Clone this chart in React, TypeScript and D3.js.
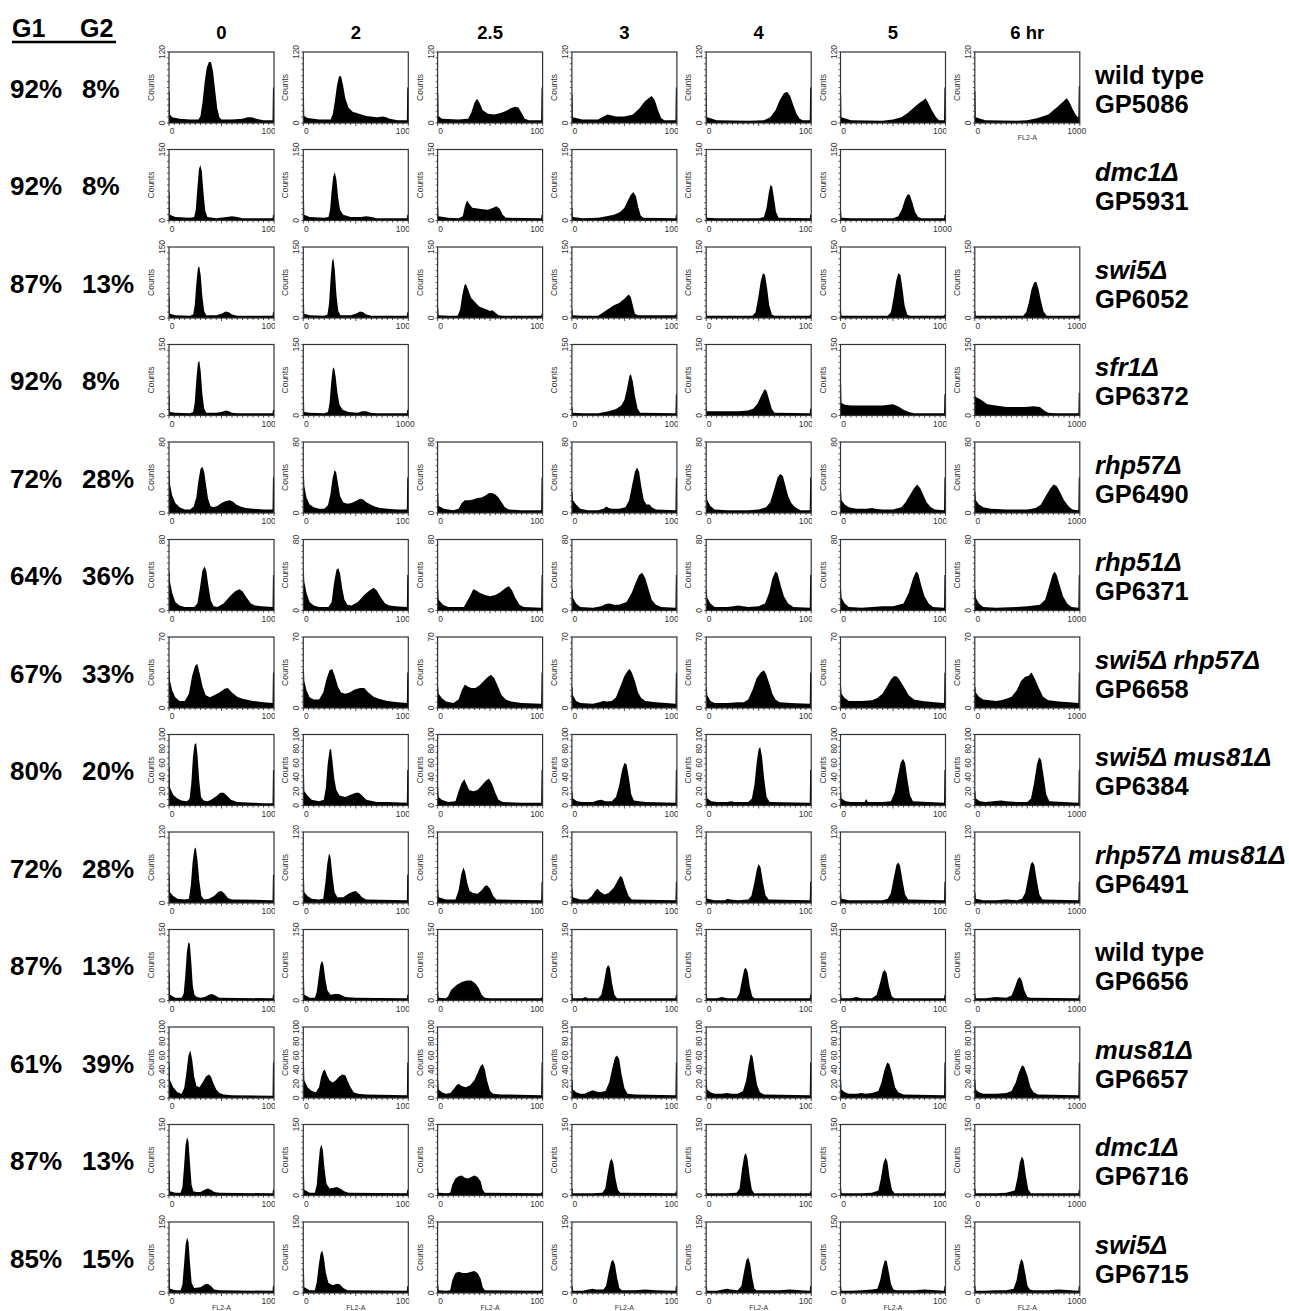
import React from 'react';
import * as d3 from 'd3';

// ---------- labels ----------
const timepoints = ['0', '2', '2.5', '3', '4', '5', '6 hr'];
const g1Values = ['92%', '92%', '87%', '92%', '72%', '64%', '67%', '80%', '72%', '87%', '61%', '87%', '85%'];
const g2Values = ['8%', '8%', '13%', '8%', '28%', '36%', '33%', '20%', '28%', '13%', '39%', '13%', '15%'];
const strainNames = ['wild type', 'dmc1Δ', 'swi5Δ', 'sfr1Δ', 'rhp57Δ', 'rhp51Δ', 'swi5Δ rhp57Δ', 'swi5Δ mus81Δ', 'rhp57Δ mus81Δ', 'wild type', 'mus81Δ', 'dmc1Δ', 'swi5Δ'];
const strainIds = ['GP5086', 'GP5931', 'GP6052', 'GP6372', 'GP6490', 'GP6371', 'GP6658', 'GP6384', 'GP6491', 'GP6656', 'GP6657', 'GP6716', 'GP6715'];
const countsMax = [120, 150, 150, 150, 80, 80, 70, 100, 120, 150, 100, 150, 150];
const fullXLabel = [[1, 5], [3, 1]];

// ---------- histogram outlines: [FL2-A channel, % of axis max] pairs ----------
const wt5086 = [
  [0,44, 6,44, 9,12, 30,8, 100,6, 200,5, 280,5, 300,10, 320,30, 340,58, 360,78, 380,86, 400,86, 420,72, 440,45, 460,20, 480,8, 500,5, 600,5, 700,6, 750,8, 790,8, 830,6, 900,4, 986,4, 990,50, 1000,50],
  [0,40, 6,40, 9,10, 40,7, 150,5, 260,5, 280,12, 300,30, 320,52, 340,66, 360,66, 380,52, 400,35, 430,22, 470,16, 530,13, 600,10, 700,8, 760,9, 790,8, 820,6, 900,4, 986,4, 990,50, 1000,50],
  [0,42, 6,42, 9,10, 40,6, 200,5, 290,6, 320,14, 350,28, 375,34, 400,28, 430,18, 480,13, 540,12, 600,14, 650,17, 700,21, 740,23, 770,22, 800,14, 830,6, 870,4, 986,4, 990,50, 1000,50],
  [0,40, 6,40, 9,8, 100,5, 250,5, 300,9, 340,12, 370,11, 420,9, 500,9, 580,12, 640,20, 690,30, 730,35, 760,38, 790,32, 820,18, 850,7, 880,4, 986,4, 990,50, 1000,50],
  [0,40, 6,40, 9,8, 100,4, 400,3, 550,4, 610,8, 660,18, 700,32, 740,42, 770,44, 800,38, 830,25, 860,13, 890,6, 920,4, 986,4, 990,50, 1000,50],
  [0,40, 6,40, 9,8, 100,4, 400,3, 500,5, 580,8, 640,14, 700,22, 750,28, 790,32, 810,35, 830,30, 870,18, 910,8, 940,4, 986,4, 990,50, 1000,50],
  [0,45, 6,45, 9,8, 100,4, 400,3, 500,4, 600,7, 700,12, 780,22, 840,30, 875,35, 900,30, 930,20, 960,12, 980,8, 986,8, 990,52, 1000,52],
];
const dmc1_5931 = [
  [0,40, 6,40, 9,8, 60,5, 200,4, 240,5, 255,15, 270,45, 285,72, 298,78, 312,70, 328,40, 345,14, 365,5, 450,3, 550,5, 600,6, 650,5, 700,3, 986,3, 990,8, 1000,8],
  [0,40, 6,40, 9,8, 60,5, 200,4, 240,5, 255,15, 270,42, 285,62, 300,68, 315,58, 332,32, 350,15, 380,8, 450,5, 550,5, 600,6, 650,5, 700,3, 986,3, 990,8, 1000,8],
  [0,20, 6,20, 9,6, 100,4, 200,3, 240,6, 260,20, 280,28, 300,24, 330,18, 380,17, 430,16, 480,15, 530,18, 560,20, 590,17, 620,8, 650,4, 986,3, 990,8, 1000,8],
  [0,18, 6,18, 9,5, 100,3, 250,4, 330,6, 400,8, 460,12, 500,18, 530,27, 560,36, 585,40, 610,34, 630,20, 655,7, 680,4, 986,3, 990,8, 1000,8],
  [0,14, 6,14, 9,4, 100,3, 500,3, 550,5, 575,18, 595,38, 612,50, 628,48, 645,32, 665,12, 690,4, 986,3, 990,8, 1000,8],
  [0,14, 6,14, 9,4, 100,3, 500,3, 550,6, 585,16, 615,30, 640,37, 660,36, 685,25, 710,12, 740,5, 770,3, 986,3, 990,8, 1000,8],
  null,
];
const swi5_6052 = [
  [0,30, 6,30, 9,6, 60,4, 200,3, 230,5, 245,18, 260,48, 275,70, 288,73, 302,60, 318,30, 335,10, 355,4, 450,4, 500,6, 540,9, 570,8, 600,5, 650,3, 986,3, 990,8, 1000,8],
  [0,28, 6,28, 9,6, 60,4, 200,3, 230,5, 245,20, 260,55, 274,80, 286,84, 300,68, 316,32, 333,10, 355,4, 450,4, 500,6, 540,9, 570,8, 600,5, 650,3, 986,3, 990,8, 1000,8],
  [0,15, 6,15, 9,4, 100,3, 190,3, 215,12, 235,32, 255,46, 270,48, 290,40, 320,28, 360,22, 400,16, 450,13, 500,10, 520,11, 545,8, 580,4, 620,3, 986,3, 990,6, 1000,6],
  [0,12, 6,12, 9,4, 100,3, 250,3, 300,8, 350,13, 400,18, 450,21, 500,27, 540,33, 560,30, 580,18, 600,6, 630,4, 700,4, 800,4, 986,4, 990,6, 1000,6],
  [0,10, 6,10, 9,3, 300,3, 440,3, 470,8, 495,28, 520,52, 540,63, 560,61, 580,42, 600,18, 625,5, 650,3, 986,3, 990,5, 1000,5],
  [0,10, 6,10, 9,3, 300,3, 450,3, 480,8, 505,28, 530,52, 550,63, 570,61, 590,42, 610,18, 635,5, 660,3, 986,3, 990,5, 1000,5],
  [0,10, 6,10, 9,3, 300,3, 460,3, 490,8, 515,22, 540,40, 565,50, 585,51, 605,42, 630,24, 655,9, 685,3, 986,3, 990,5, 1000,5],
];
const sfr1_6372 = [
  [0,30, 6,30, 9,5, 60,4, 200,3, 230,5, 245,18, 260,50, 275,74, 288,77, 302,62, 318,30, 335,10, 355,4, 450,4, 500,5, 540,7, 570,6, 600,4, 650,3, 986,3, 990,8, 1000,8],
  [0,28, 6,28, 9,5, 60,4, 200,3, 235,5, 250,18, 265,45, 280,65, 292,68, 308,55, 325,32, 345,15, 375,8, 430,5, 520,4, 560,6, 600,6, 640,4, 700,3, 986,3, 990,8, 1000,8],
  null,
  [0,12, 6,12, 9,4, 100,3, 250,3, 350,6, 420,9, 470,14, 500,22, 525,38, 548,56, 562,58, 580,48, 600,28, 625,10, 650,4, 986,3, 990,30, 1000,30],
  [0,12, 6,12, 9,6, 100,6, 300,6, 400,7, 450,10, 490,17, 525,28, 555,37, 575,35, 600,22, 625,9, 650,4, 986,3, 990,10, 1000,10],
  [0,45, 6,45, 9,18, 40,15, 100,14, 200,14, 300,14, 400,14, 460,15, 500,16, 530,14, 560,12, 600,8, 650,5, 700,3, 986,3, 990,30, 1000,30],
  [0,28, 6,28, 9,26, 40,24, 80,20, 120,16, 200,14, 300,12, 400,12, 480,12, 560,13, 620,12, 660,7, 700,4, 750,3, 986,3, 990,32, 1000,32],
];
const rhp57_6490 = [
  [0,60, 6,60, 10,40, 30,25, 60,14, 100,8, 150,5, 200,5, 235,9, 260,22, 280,45, 300,62, 318,65, 335,58, 352,40, 372,20, 395,10, 420,8, 460,10, 500,14, 540,17, 580,18, 610,16, 640,12, 680,9, 730,7, 800,6, 900,5, 986,5, 990,50, 1000,50],
  [0,55, 6,55, 10,38, 30,22, 60,12, 100,8, 150,6, 200,6, 235,11, 258,26, 278,48, 296,60, 312,58, 330,42, 350,24, 380,15, 420,13, 460,14, 500,17, 540,20, 570,19, 600,15, 640,12, 680,9, 730,7, 800,6, 900,5, 986,5, 990,50, 1000,50],
  [0,28, 6,28, 10,10, 60,6, 150,4, 200,6, 230,14, 260,18, 300,18, 340,19, 380,21, 420,22, 460,25, 490,28, 520,28, 550,26, 580,22, 610,15, 640,8, 680,5, 800,4, 986,4, 990,50, 1000,50],
  [0,30, 6,30, 10,18, 40,12, 80,6, 150,4, 250,4, 300,6, 330,9, 350,7, 380,6, 450,6, 510,8, 545,18, 575,40, 600,58, 620,64, 640,58, 660,38, 685,18, 710,12, 740,12, 760,8, 800,5, 986,4, 990,50, 1000,50],
  [0,30, 6,30, 10,18, 40,10, 80,5, 200,4, 400,4, 500,5, 570,8, 610,15, 645,32, 680,50, 705,55, 730,52, 755,38, 780,24, 810,14, 840,9, 870,6, 900,4, 986,4, 990,50, 1000,50],
  [0,30, 6,30, 10,18, 40,12, 80,8, 150,6, 250,6, 300,7, 330,6, 400,5, 500,5, 580,8, 620,15, 660,25, 700,35, 730,40, 760,35, 790,25, 820,15, 860,8, 900,5, 986,4, 990,50, 1000,50],
  [0,30, 6,30, 10,18, 40,12, 80,8, 150,6, 300,5, 500,5, 580,7, 630,12, 680,25, 720,35, 750,40, 780,38, 810,30, 850,18, 890,10, 930,5, 986,4, 990,50, 1000,50],
];
const rhp51_6371 = [
  [0,55, 6,55, 10,40, 30,25, 60,12, 100,7, 150,5, 240,5, 270,10, 295,32, 318,56, 338,62, 355,56, 375,35, 398,14, 425,6, 460,5, 520,10, 580,20, 630,27, 670,30, 700,27, 740,18, 780,10, 820,7, 880,6, 986,5, 990,50, 1000,50],
  [0,55, 6,55, 10,40, 30,25, 60,12, 100,7, 150,5, 240,5, 270,12, 292,38, 315,57, 333,60, 350,52, 370,32, 392,15, 420,8, 460,7, 520,12, 580,22, 630,28, 670,32, 700,28, 740,18, 780,10, 820,7, 880,6, 986,5, 990,50, 1000,50],
  [0,30, 6,30, 10,15, 50,8, 100,5, 250,5, 300,18, 340,30, 370,28, 400,25, 450,22, 500,20, 550,22, 600,26, 650,32, 680,34, 710,28, 740,18, 780,8, 820,5, 986,4, 990,50, 1000,50],
  [0,30, 6,30, 10,18, 40,10, 80,5, 200,4, 280,6, 320,9, 360,10, 400,8, 450,8, 520,12, 570,25, 610,40, 640,50, 670,53, 700,45, 730,30, 760,15, 800,8, 850,5, 986,4, 990,50, 1000,50],
  [0,30, 6,30, 10,18, 40,10, 80,5, 200,5, 260,6, 300,7, 350,6, 400,5, 500,6, 560,10, 600,25, 630,45, 660,55, 680,52, 710,35, 740,20, 780,10, 830,5, 986,4, 990,50, 1000,50],
  [0,30, 6,30, 10,18, 40,10, 80,5, 200,4, 300,5, 400,6, 500,6, 600,10, 650,25, 690,45, 720,55, 740,52, 770,35, 800,20, 840,10, 880,5, 986,4, 990,50, 1000,50],
  [0,30, 6,30, 10,18, 40,10, 80,5, 200,4, 400,5, 500,6, 620,8, 670,15, 710,35, 740,50, 760,55, 780,50, 810,35, 840,20, 880,10, 920,5, 986,4, 990,50, 1000,50],
];
const swi5rhp57_6658 = [
  [0,55, 6,55, 10,38, 30,25, 60,15, 100,10, 150,10, 190,20, 220,45, 250,60, 270,62, 290,50, 320,30, 350,18, 390,15, 430,18, 480,22, 530,27, 560,28, 600,22, 650,16, 700,13, 800,10, 900,8, 986,7, 990,50, 1000,50],
  [0,55, 6,55, 10,38, 30,25, 60,15, 100,12, 150,12, 190,22, 220,40, 250,53, 275,55, 300,45, 330,30, 360,22, 400,20, 440,22, 490,26, 540,28, 580,28, 620,22, 670,16, 720,13, 800,10, 900,8, 986,7, 990,50, 1000,50],
  [0,30, 6,30, 10,20, 40,14, 80,9, 150,7, 200,12, 230,25, 260,33, 290,30, 320,28, 360,28, 400,32, 440,38, 480,44, 510,47, 540,42, 570,32, 610,18, 650,12, 700,9, 800,7, 986,6, 990,50, 1000,50],
  [0,30, 6,30, 10,18, 40,10, 80,7, 200,6, 260,8, 300,10, 330,9, 380,10, 420,15, 460,30, 500,45, 530,52, 550,55, 570,50, 600,38, 630,22, 660,14, 700,10, 800,8, 900,7, 986,6, 990,50, 1000,50],
  [0,30, 6,30, 10,18, 40,10, 80,7, 200,7, 300,8, 360,8, 400,12, 440,25, 480,42, 520,50, 550,53, 570,48, 600,35, 630,20, 660,12, 700,8, 800,7, 986,6, 990,50, 1000,50],
  [0,30, 6,30, 10,20, 40,14, 80,10, 200,10, 300,11, 350,14, 400,20, 440,30, 480,40, 510,45, 540,44, 570,38, 610,28, 650,18, 700,12, 780,10, 900,8, 986,7, 990,50, 1000,50],
  [0,30, 6,30, 10,22, 40,16, 80,12, 200,10, 250,11, 300,13, 350,16, 400,25, 440,38, 480,44, 510,45, 540,50, 570,42, 610,28, 650,16, 700,11, 800,9, 900,8, 986,7, 990,50, 1000,50],
];
const swi5mus81_6384 = [
  [0,55, 6,55, 10,25, 40,15, 80,10, 120,7, 170,6, 195,9, 212,30, 228,68, 243,86, 258,88, 272,70, 288,35, 305,12, 330,7, 370,6, 400,8, 450,13, 490,18, 520,18, 550,14, 590,8, 650,5, 800,4, 900,3, 986,3, 990,50, 1000,50],
  [0,50, 6,50, 10,20, 40,14, 80,8, 150,6, 195,8, 215,25, 232,58, 250,78, 264,80, 278,62, 295,38, 315,22, 345,14, 400,12, 450,15, 500,18, 530,18, 560,14, 600,8, 700,5, 800,5, 986,4, 990,50, 1000,50],
  [0,25, 6,25, 10,12, 40,8, 100,5, 170,6, 200,20, 230,32, 255,37, 275,30, 300,22, 340,20, 380,22, 420,28, 460,35, 490,38, 520,30, 550,18, 580,8, 620,5, 800,4, 986,4, 990,50, 1000,50],
  [0,20, 6,20, 10,10, 50,6, 100,5, 200,5, 240,7, 280,8, 320,6, 380,6, 420,12, 450,28, 478,50, 500,60, 520,58, 542,40, 565,16, 590,7, 700,5, 986,4, 990,50, 1000,50],
  [0,20, 6,20, 10,10, 50,6, 100,5, 200,5, 240,6, 270,5, 320,5, 400,5, 435,10, 460,30, 482,62, 500,80, 515,82, 532,68, 552,38, 575,12, 605,5, 986,4, 990,50, 1000,50],
  [0,20, 6,20, 10,10, 50,6, 100,5, 230,5, 245,9, 260,5, 400,5, 480,6, 515,18, 545,40, 572,60, 595,66, 615,60, 638,36, 662,14, 690,6, 986,4, 990,50, 1000,50],
  [0,20, 6,20, 10,10, 50,6, 100,5, 250,7, 300,6, 400,5, 500,5, 535,10, 565,32, 592,58, 612,68, 632,64, 655,42, 680,16, 710,6, 986,4, 990,50, 1000,50],
];
const rhp57mus81_6491 = [
  [0,40, 6,40, 10,15, 40,10, 80,6, 150,5, 190,6, 208,25, 225,58, 242,76, 255,78, 270,62, 288,32, 308,10, 335,5, 380,6, 430,10, 470,16, 500,17, 530,13, 560,7, 600,5, 986,4, 990,40, 1000,40],
  [0,40, 6,40, 10,15, 40,10, 80,6, 150,5, 190,6, 210,28, 228,55, 245,70, 260,64, 278,38, 298,15, 325,8, 380,8, 430,13, 470,16, 500,17, 530,13, 560,8, 600,5, 986,4, 990,40, 1000,40],
  [0,20, 6,20, 10,8, 80,5, 170,5, 200,18, 225,40, 245,50, 262,44, 282,28, 305,17, 340,14, 380,13, 420,18, 450,24, 470,25, 500,20, 530,10, 560,5, 986,4, 990,30, 1000,30],
  [0,20, 6,20, 10,8, 80,5, 150,5, 190,10, 220,17, 245,20, 270,16, 310,12, 350,14, 400,22, 430,30, 460,38, 480,36, 510,22, 540,10, 570,5, 986,4, 990,30, 1000,30],
  [0,15, 6,15, 10,6, 80,4, 180,4, 200,6, 230,5, 300,4, 400,5, 430,10, 458,28, 483,48, 500,55, 518,50, 540,30, 565,11, 595,5, 986,4, 990,30, 1000,30],
  [0,15, 6,15, 10,6, 80,4, 200,4, 300,4, 400,4, 450,6, 480,14, 508,36, 533,54, 550,57, 568,52, 590,32, 615,12, 645,5, 986,4, 990,30, 1000,30],
  [0,15, 6,15, 10,6, 80,4, 200,4, 300,5, 400,4, 450,6, 480,14, 508,36, 533,55, 550,58, 568,53, 590,32, 615,12, 645,5, 986,4, 990,30, 1000,30],
];
const wt6656 = [
  [0,40, 6,40, 10,8, 60,4, 120,4, 140,10, 155,35, 170,68, 185,82, 198,80, 212,55, 226,22, 242,8, 265,5, 300,4, 340,5, 380,8, 410,9, 440,7, 480,4, 986,3, 990,8, 1000,8],
  [0,35, 6,35, 10,8, 60,4, 110,4, 128,12, 145,32, 162,50, 178,56, 193,50, 210,30, 230,14, 260,8, 300,9, 340,9, 370,7, 400,5, 500,4, 986,3, 990,8, 1000,8],
  [0,12, 6,12, 10,4, 80,3, 100,6, 130,15, 180,22, 230,26, 280,28, 320,28, 360,24, 390,18, 420,8, 450,4, 500,3, 986,3, 990,5, 1000,5],
  [0,10, 6,10, 10,3, 100,3, 130,5, 150,3, 250,3, 280,8, 305,25, 328,45, 345,50, 362,46, 382,25, 405,8, 430,3, 986,3, 990,8, 1000,8],
  [0,10, 6,10, 10,3, 100,3, 150,5, 200,3, 290,3, 315,9, 340,28, 362,44, 378,46, 395,40, 415,20, 438,6, 460,3, 986,3, 990,8, 1000,8],
  [0,10, 6,10, 10,3, 100,3, 150,5, 200,3, 300,3, 345,8, 375,24, 403,40, 422,43, 440,38, 462,20, 488,6, 515,3, 986,3, 990,8, 1000,8],
  [0,10, 6,10, 10,3, 100,3, 200,5, 300,4, 350,7, 380,18, 408,30, 428,33, 448,28, 472,14, 500,5, 530,4, 986,3, 990,8, 1000,8],
];
const mus81_6657 = [
  [0,50, 6,50, 10,25, 40,15, 80,8, 120,6, 145,14, 165,35, 185,60, 203,67, 220,55, 240,30, 262,17, 290,15, 320,22, 350,30, 380,33, 400,30, 420,22, 450,12, 480,7, 520,5, 600,4, 986,3, 990,50, 1000,50],
  [0,50, 6,50, 10,25, 40,15, 80,10, 120,8, 150,15, 170,30, 190,38, 205,40, 225,32, 250,25, 280,22, 310,25, 340,30, 370,33, 400,32, 420,25, 450,15, 480,8, 520,6, 600,5, 986,4, 990,50, 1000,50],
  [0,25, 6,25, 10,12, 40,8, 80,6, 120,7, 150,12, 180,18, 200,20, 230,17, 270,15, 310,18, 350,25, 380,35, 410,45, 430,48, 450,40, 470,25, 500,10, 530,6, 600,5, 986,4, 990,50, 1000,50],
  [0,25, 6,25, 10,12, 40,8, 80,6, 120,6, 150,8, 180,10, 200,11, 230,9, 270,8, 320,10, 355,22, 385,42, 410,57, 430,60, 450,55, 472,34, 500,14, 530,6, 600,5, 986,4, 990,50, 1000,50],
  [0,25, 6,25, 10,12, 40,8, 80,6, 150,6, 200,7, 240,6, 300,6, 350,10, 380,24, 405,48, 425,62, 442,58, 462,38, 485,18, 512,8, 550,5, 986,4, 990,50, 1000,50],
  [0,25, 6,25, 10,12, 40,8, 80,6, 150,6, 200,7, 240,6, 300,7, 360,10, 390,22, 420,40, 445,50, 465,48, 490,35, 520,15, 550,8, 600,5, 986,4, 990,50, 1000,50],
  [0,25, 6,25, 10,12, 40,8, 80,6, 150,6, 200,6, 300,7, 350,10, 390,22, 420,36, 450,46, 470,44, 500,32, 530,15, 560,8, 600,5, 986,4, 990,50, 1000,50],
];
const dmc1_6716 = [
  [0,35, 6,35, 10,6, 60,4, 110,4, 128,12, 143,40, 158,72, 172,82, 186,76, 200,45, 215,15, 232,6, 260,5, 300,5, 340,8, 370,10, 400,8, 430,5, 480,4, 986,3, 990,8, 1000,8],
  [0,35, 6,35, 10,8, 60,4, 110,4, 128,15, 143,42, 158,65, 172,72, 186,64, 202,38, 220,17, 250,10, 290,11, 320,12, 350,10, 390,6, 430,4, 986,3, 990,8, 1000,8],
  [0,12, 6,12, 10,4, 80,3, 120,4, 140,15, 170,24, 200,27, 230,28, 260,25, 290,24, 320,26, 350,28, 380,26, 410,20, 430,8, 450,4, 986,3, 990,5, 1000,5],
  [0,10, 6,10, 10,3, 100,3, 200,3, 290,4, 318,10, 342,32, 362,48, 378,52, 395,45, 415,24, 438,8, 460,4, 986,3, 990,6, 1000,6],
  [0,10, 6,10, 10,3, 100,3, 200,3, 290,4, 318,10, 342,38, 362,56, 377,60, 393,52, 413,28, 435,8, 458,3, 986,3, 990,6, 1000,6],
  [0,10, 6,10, 10,3, 100,3, 200,3, 300,4, 360,7, 385,24, 408,45, 428,53, 446,48, 466,26, 490,8, 515,3, 986,3, 990,6, 1000,6],
  [0,10, 6,10, 10,3, 100,3, 200,3, 300,4, 380,7, 405,24, 428,46, 448,55, 466,50, 486,28, 510,8, 535,3, 986,3, 990,8, 1000,8],
];
const swi5_6715 = [
  [0,35, 6,35, 10,6, 60,4, 110,4, 128,12, 143,40, 158,68, 172,78, 186,72, 200,42, 216,14, 240,7, 300,8, 340,12, 370,13, 400,10, 430,5, 480,4, 986,3, 990,10, 1000,10],
  [0,35, 6,35, 10,8, 60,4, 110,4, 128,15, 148,40, 165,56, 180,60, 196,50, 215,28, 240,14, 280,11, 320,13, 350,12, 380,7, 420,4, 986,3, 990,10, 1000,10],
  [0,12, 6,12, 10,4, 80,3, 120,4, 140,18, 170,28, 200,30, 240,28, 280,28, 320,30, 350,31, 380,28, 410,20, 430,8, 450,4, 986,3, 990,5, 1000,5],
  [0,10, 6,10, 10,3, 100,3, 160,5, 200,6, 230,5, 300,5, 325,10, 352,30, 375,44, 392,47, 410,40, 430,22, 452,7, 475,4, 600,4, 700,5, 800,4, 986,3, 990,10, 1000,10],
  [0,10, 6,10, 10,3, 100,3, 160,5, 200,6, 230,5, 300,4, 335,10, 360,30, 382,46, 400,50, 418,42, 438,22, 460,6, 480,4, 700,4, 800,5, 900,4, 986,3, 990,10, 1000,10],
  [0,10, 6,10, 10,3, 100,3, 200,4, 300,5, 350,6, 378,18, 402,36, 422,46, 440,45, 460,30, 482,12, 505,5, 530,4, 700,4, 800,5, 986,3, 990,10, 1000,10],
  [0,10, 6,10, 10,3, 100,3, 200,4, 300,4, 370,6, 398,18, 422,38, 442,48, 460,44, 480,28, 502,10, 525,5, 550,4, 700,4, 800,5, 986,3, 990,10, 1000,10],
];

const rows = [wt5086, dmc1_5931, swi5_6052, sfr1_6372, rhp57_6490, rhp51_6371, swi5rhp57_6658, swi5mus81_6384, rhp57mus81_6491, wt6656, mus81_6657, dmc1_6716, swi5_6715];

// ---------- layout ----------
const WIDTH = 1289;
const HEIGHT = 1311;
const FRAME_LEFT = 169;
const COL_STEP = 134.3;
const FRAME_TOP = 52;
const ROW_STEP = 97.5;
const PW = 105;
const PH = 71;
const BIG = 'Arial, "Liberation Sans", Helvetica, sans-serif';

const toPairs = (flat: number[]) => {
  const out: [number, number][] = [];
  for (let i = 0; i < flat.length; i += 2) out.push([flat[i], flat[i + 1]]);
  return out;
};

const xScale = d3.scaleLinear().domain([0, 1000]).range([0, PW]);

function Panel({ r, c, data }: { r: number; c: number; data: number[] }) {
  const max = countsMax[r];
  const yScale = d3.scaleLinear().domain([0, max]).range([PH, 0]);
  const pts = toPairs(data).map(([x, p]) => [x, (p / 100) * max] as [number, number]);
  const area = d3
    .area<[number, number]>()
    .x((d) => xScale(d[0]))
    .y0(PH)
    .y1((d) => yScale(d[1]))
    .curve(d3.curveLinear);
  const left = FRAME_LEFT + COL_STEP * c;
  const top = FRAME_TOP + ROW_STEP * r;
  const fullTicks = max === 100;
  const yLabels = fullTicks ? d3.range(0, 101, 20) : [0, max];
  const minor = d3.range(0, max + 0.001, max / 12);
  const full = c === 6 || fullXLabel.some(([a, b]) => a === r && b === c);
  const clipId = `clip-${r}-${c}`;
  return (
    <g transform={`translate(${left},${top})`}>
      <clipPath id={clipId}>
        <rect x={-20} y={PH} width={PW + 21} height={30} />
      </clipPath>
      <path d={area(pts) || ''} fill="#000" />
      <rect x={0} y={0} width={PW} height={PH} fill="none" stroke="#333" strokeWidth={1.2} />
      {minor.map((v, i) => (
        <line key={'ym' + i} x1={-2} x2={0} y1={yScale(v)} y2={yScale(v)} stroke="#333" strokeWidth={0.8} />
      ))}
      {d3.range(0, 1001, 50).map((v) => (
        <line key={'xm' + v} x1={xScale(v)} x2={xScale(v)} y1={PH} y2={PH + (v % 500 === 0 ? 3 : 2)} stroke="#222" strokeWidth={0.8} />
      ))}
      {yLabels.map((v) => (
        <text
          key={'yl' + v}
          transform={`translate(-4,${yScale(v)}) rotate(-90)`}
          textAnchor="middle"
          fontFamily={BIG}
          fontSize={8.5}
          fill="#333"
        >
          {v}
        </text>
      ))}
      <text transform={`translate(-15,${PH / 2}) rotate(-90)`} textAnchor="middle" fontFamily={BIG} fontSize={8.5} fill="#333">
        Counts
      </text>
      <text x={3} y={PH + 11} textAnchor="middle" fontFamily={BIG} fontSize={8.5} fill="#333">
        0
      </text>
      <text x={PW - 3} y={PH + 11} textAnchor="middle" fontFamily={BIG} fontSize={8.5} fill="#333" clipPath={full ? undefined : `url(#${clipId})`}>
        1000
      </text>
      {(r === rows.length - 1 || (r === 0 && c === 6)) && (
        <text x={PW / 2} y={PH + 16.5} textAnchor="middle" fontFamily={BIG} fontSize={7} fill="#333">
          FL2-A
        </text>
      )}
    </g>
  );
}

export default function App() {
  return (
    <svg width={WIDTH} height={HEIGHT} style={{ position: 'absolute', left: 0, top: 0, background: '#fff' }}>
      <rect width={WIDTH} height={HEIGHT} fill="#fff" />
      {/* G1 / G2 header */}
      <text x={12} y={37} fontFamily={BIG} fontWeight="bold" fontSize={25}>G1</text>
      <text x={80} y={37} fontFamily={BIG} fontWeight="bold" fontSize={25}>G2</text>
      <line x1={12} x2={116} y1={42} y2={42} stroke="#000" strokeWidth={2.5} />
      {timepoints.map((t, c) => (
        <text key={t} x={FRAME_LEFT + COL_STEP * c + PW / 2} y={39} textAnchor="middle" fontFamily={BIG} fontWeight="bold" fontSize={18.5}>
          {t}
        </text>
      ))}
      {rows.map((row, r) => (
        <g key={r}>
          <text x={10} y={97.5 + ROW_STEP * r} fontFamily={BIG} fontWeight="bold" fontSize={26}>{g1Values[r]}</text>
          <text x={82} y={97.5 + ROW_STEP * r} fontFamily={BIG} fontWeight="bold" fontSize={26}>{g2Values[r]}</text>
          <text x={1095} y={83.5 + ROW_STEP * r} fontFamily={BIG} fontWeight="bold" fontSize={25.5} fontStyle={strainNames[r] === 'wild type' ? 'normal' : 'italic'}>
            {strainNames[r]}
          </text>
          <text x={1095} y={112.5 + ROW_STEP * r} fontFamily={BIG} fontWeight="bold" fontSize={25.5}>{strainIds[r]}</text>
          {row.map((d, c) => (d ? <Panel key={c} r={r} c={c} data={d as number[]} /> : null))}
        </g>
      ))}
    </svg>
  );
}
